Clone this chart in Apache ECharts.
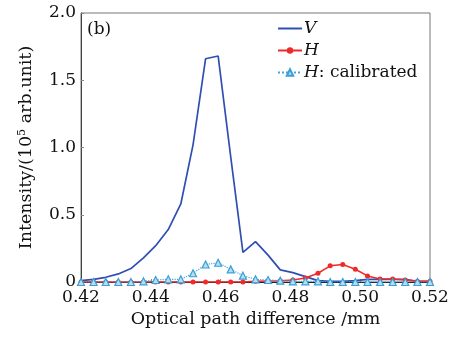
<!DOCTYPE html>
<html>
<head>
<meta charset="utf-8">
<script src="https://cdn.jsdelivr.net/npm/echarts@6/dist/echarts.min.js"></script>
<style>
  html, body { margin: 0; padding: 0; background: #fff; }
  #chart { width: 461px; height: 337px; }
</style>
</head>
<body>
<div id="chart"></div>
<script>
// Optical path difference sample positions (mm)
const opd = [0.4200, 0.4236, 0.4271, 0.4307, 0.4343, 0.4379, 0.4414, 0.4450, 0.4486, 0.4521,
             0.4557, 0.4593, 0.4629, 0.4664, 0.4700, 0.4736, 0.4771, 0.4807, 0.4843, 0.4879,
             0.4914, 0.4950, 0.4986, 0.5021, 0.5057, 0.5093, 0.5129, 0.5164, 0.5200];

// Intensities in units of 10^5 arb.unit
const vIntensity = [0.01, 0.02, 0.035, 0.06, 0.10, 0.18, 0.27, 0.39, 0.58, 1.02,
                    1.66, 1.68, 0.93, 0.22, 0.30, 0.20, 0.09, 0.07, 0.04, 0.01,
                    0.005, 0.005, 0.01, 0.02, 0.02, 0.02, 0.02, 0.005, 0.005];
const hIntensity = [0, 0, 0, 0, 0, 0, 0, 0, 0, 0,
                    0, 0, 0, 0, 0.005, 0.008, 0.01, 0.015, 0.03, 0.065,
                    0.12, 0.13, 0.095, 0.045, 0.022, 0.022, 0.015, 0.005, 0.005];
const hCalibrated = [0, 0, 0, 0, 0, 0.005, 0.015, 0.02, 0.02, 0.065,
                     0.13, 0.143, 0.094, 0.047, 0.02, 0.015, 0.01, 0.005, 0.005, 0.005,
                     0, 0, 0, 0, 0, 0, 0, 0, 0];

const seriesNames = ['V', 'H', 'H: calibrated'];
const xTicks = { min: 0.42, max: 0.52, step: 0.02 };
const yTicks = { min: 0, max: 2, step: 0.5 };

const FONT = 'DejaVu Serif';
const pair = (ys) => ys.map((y, i) => [opd[i], y]);

const chart = echarts.init(document.getElementById('chart'), null, { renderer: 'canvas' });
chart.setOption({
  animation: false,
  backgroundColor: '#fff',
  grid: { left: 81, right: 31, top: 13, bottom: 55, show: true, borderColor: '#777', borderWidth: 1 },
  xAxis: {
    type: 'value',
    min: xTicks.min, max: xTicks.max, interval: xTicks.step,
    name: 'Optical path difference /mm',
    nameLocation: 'middle', nameGap: 28,
    nameTextStyle: { fontFamily: FONT, fontSize: 17.5, color: '#111' },
    axisLine: { lineStyle: { color: '#222', width: 1.2 } },
    axisTick: { inside: true, length: 3, lineStyle: { color: '#888' } },
    axisLabel: { fontFamily: FONT, fontSize: 17, color: '#111', margin: 7,
                 formatter: v => v.toFixed(2) },
    splitLine: { show: false }
  },
  yAxis: {
    type: 'value',
    min: yTicks.min, max: yTicks.max, interval: yTicks.step,
    name: 'Intensity/(10{sup|5} arb.unit)',
    nameLocation: 'middle', nameGap: 45,
    nameTextStyle: { fontFamily: FONT, fontSize: 17.5, color: '#111',
                     rich: { sup: { fontFamily: FONT, fontSize: 11, padding: [0, 0, 8, 0], color: '#111' } } },
    axisLine: { lineStyle: { color: '#444', width: 1 } },
    axisTick: { inside: true, length: 3, lineStyle: { color: '#888' } },
    axisLabel: { fontFamily: FONT, fontSize: 17, color: '#111', margin: 5,
                 formatter: v => v === 0 ? '0' : v.toFixed(1) },
    splitLine: { show: false }
  },
  legend: {
    orient: 'vertical',
    left: 272, top: 15,
    itemWidth: 24, itemHeight: 8, itemGap: 5,
    data: [
      { name: seriesNames[0], itemStyle: { opacity: 0 } },
      { name: seriesNames[1] },
      { name: seriesNames[2] }
    ],
    formatter: n => n === 'H: calibrated' ? '{i|H}: calibrated' : '{i|' + n + '}',
    textStyle: { fontFamily: FONT, fontSize: 17, color: '#111', padding: [0, 0, 0, -3],
                 rich: { i: { fontFamily: FONT, fontStyle: 'italic', fontSize: 17, color: '#111' } } }
  },
  graphic: [{
    type: 'text', left: 87, top: 21,
    style: { text: '(b)', font: '17px "DejaVu Serif"', fill: '#111' }
  }],
  series: [
    {
      name: seriesNames[0], type: 'line', data: pair(vIntensity),
      symbol: 'none', lineStyle: { color: '#2f4fb3', width: 1.7 },
      itemStyle: { color: '#2f4fb3' }, z: 2
    },
    {
      name: seriesNames[1], type: 'line', data: pair(hIntensity),
      symbol: 'circle', symbolSize: 5,
      lineStyle: { color: '#ee2a2a', width: 1.5 },
      itemStyle: { color: '#ee2a2a' }, z: 3
    },
    {
      name: seriesNames[2], type: 'line', data: pair(hCalibrated),
      symbol: 'triangle', symbolSize: 7,
      lineStyle: { color: '#3fa8dc', width: 1.2, type: 'dotted' },
      itemStyle: { color: '#b5def3', borderColor: '#3a9fd6', borderWidth: 1.2 }, z: 4
    }
  ]
});
</script>
</body>
</html>
